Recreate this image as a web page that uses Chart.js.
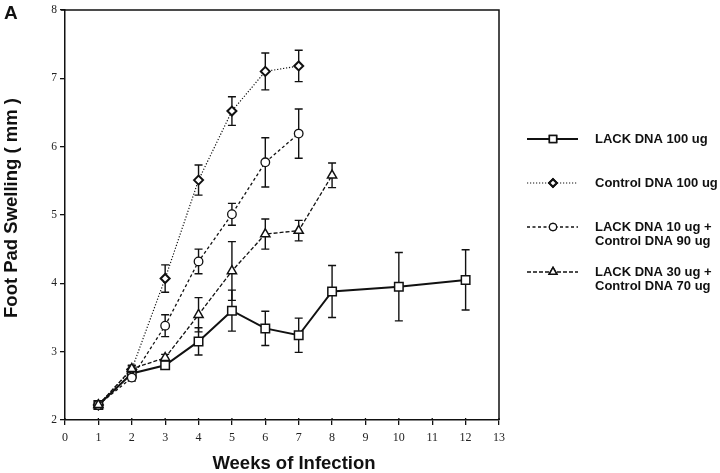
<!DOCTYPE html>
<html lang="en">
<head>
<meta charset="UTF-8" />
<title>Foot Pad Swelling</title>
<script src="https://cdn.jsdelivr.net/npm/chart.js@4.4.0/dist/chart.umd.min.js"></script>
<style>
  html, body { margin: 0; padding: 0; background: #fff; }
  .chartBox { width: 720px; height: 473px; position: relative; }
</style>
</head>
<body>
<div class="chartBox">
  <canvas id="myChart"></canvas>
</div>
<script>
// values
const lackWeeks = [1, 2, 3, 4, 5, 6, 7, 8, 10, 12];
const lack100 = [2.22, 2.68, 2.80, 3.15, 3.60, 3.34, 3.24, 3.88, 3.95, 4.05];
const lack100Err = [0.04, 0.06, 0.05, 0.20, 0.30, 0.25, 0.25, 0.38, 0.50, 0.44];

const ctrlWeeks = [1, 2, 3, 4, 5, 6, 7];
const ctrl100 = [2.22, 2.74, 4.07, 5.51, 6.52, 7.10, 7.18];
const ctrl100Err = [0.03, 0.05, 0.20, 0.22, 0.21, 0.27, 0.23];

const lack10Weeks = [1, 2, 3, 4, 5, 6, 7];
const lack10 = [2.22, 2.62, 3.38, 4.32, 5.01, 5.77, 6.19];
const lack10Err = [0.03, 0.05, 0.16, 0.18, 0.16, 0.36, 0.36];

const lack30Weeks = [1, 2, 3, 4, 5, 6, 7, 8];
const lack30 = [2.22, 2.75, 2.91, 3.54, 4.18, 4.72, 4.77, 5.58];
const lack30Err = [0.03, 0.05, 0.05, 0.25, 0.43, 0.22, 0.15, 0.18];

const xTicks = [0, 1, 2, 3, 4, 5, 6, 7, 8, 9, 10, 11, 12, 13];
const yTicks = [2, 3, 4, 5, 6, 7, 8];

const xTitle = 'Weeks of Infection';
const yTitle = 'Foot Pad Swelling ( mm )';

const legendLabels = [
  ['LACK DNA 100 ug'],
  ['Control DNA 100 ug'],
  ['LACK DNA 10 ug +', 'Control DNA 90 ug'],
  ['LACK DNA 30 ug +', 'Control DNA 70 ug']
];

function pts(xs, ys) {
  return xs.map((x, i) => ({ x: x, y: ys[i] }));
}

const styles = [
  { pointStyle: 'rect', radius: 6, dash: [], width: 2, pbw: 1.5 },
  { pointStyle: 'rectRot', radius: 4.5, dash: [1.2, 1.8], width: 1.2, pbw: 2 },
  { pointStyle: 'circle', radius: 4.3, dash: [3, 2.5], width: 1.3, pbw: 1.3 },
  { pointStyle: 'triangle', radius: 5.3, dash: [4, 2], width: 1.3, pbw: 1.5 }
];

const seriesData = [
  { data: pts(lackWeeks, lack100), err: lack100Err },
  { data: pts(ctrlWeeks, ctrl100), err: ctrl100Err },
  { data: pts(lack10Weeks, lack10), err: lack10Err },
  { data: pts(lack30Weeks, lack30), err: lack30Err }
];

const datasets = seriesData.map((s, i) => ({
  label: legendLabels[i].join(' '),
  data: s.data,
  err: s.err,
  borderColor: '#111',
  backgroundColor: '#fff',
  borderWidth: styles[i].width,
  borderDash: styles[i].dash,
  pointStyle: styles[i].pointStyle,
  pointRadius: styles[i].radius,
  pointBorderWidth: styles[i].pbw,
  pointBackgroundColor: '#fff',
  pointBorderColor: '#111',
  tension: 0,
  order: 3 - i
}));

const sansBold = '"Liberation Sans", Arial, sans-serif';

// error bars, frame, titles and legend
const extras = {
  id: 'extras',
  beforeDatasetsDraw(chart) {
    const c = chart.ctx;
    const xs = chart.scales.x, ys = chart.scales.y;
    c.save();
    c.strokeStyle = '#111';
    c.lineWidth = 1.4;
    c.setLineDash([]);
    chart.data.datasets.forEach(ds => {
      ds.data.forEach((p, i) => {
        const e = ds.err[i];
        const px = xs.getPixelForValue(p.x);
        const top = ys.getPixelForValue(p.y + e);
        const bot = ys.getPixelForValue(p.y - e);
        c.beginPath();
        c.moveTo(px, top); c.lineTo(px, bot);
        c.moveTo(px - 4, top); c.lineTo(px + 4, top);
        c.moveTo(px - 4, bot); c.lineTo(px + 4, bot);
        c.stroke();
      });
    });
    c.restore();
  },
  afterDraw(chart) {
    const c = chart.ctx;
    const a = chart.chartArea;
    c.save();
    c.strokeStyle = '#111';
    c.lineWidth = 1.5;
    c.beginPath();
    c.moveTo(a.left - 4, a.top);
    c.lineTo(a.right, a.top);
    c.lineTo(a.right, a.bottom);
    c.stroke();

    // x ticks also poke a little into the plot
    const xs = chart.scales.x;
    c.lineWidth = 1.3;
    c.beginPath();
    xTicks.forEach(v => {
      const px = xs.getPixelForValue(v);
      c.moveTo(px, a.bottom); c.lineTo(px, a.bottom - 2);
    });
    c.stroke();

    c.fillStyle = '#111';
    c.textBaseline = 'middle';

    // panel letter
    c.font = 'bold 19px ' + sansBold;
    c.textAlign = 'left';
    c.fillText('A', 4, 14);

    // axis titles
    c.font = 'bold 18.5px ' + sansBold;
    c.textAlign = 'center';
    c.fillText(xTitle, (a.left + a.right) / 2 + 12, 464);
    c.save();
    c.translate(12, 208);
    c.rotate(-Math.PI / 2);
    c.fillText(yTitle, 0, 0);
    c.restore();

    // legend
    const rows = [139, 183, 227, 272];
    c.font = 'bold 13px ' + sansBold;
    c.textAlign = 'left';
    rows.forEach((y, i) => {
      const st = styles[i];
      c.lineWidth = st.width;
      c.setLineDash(st.dash);
      c.beginPath();
      c.moveTo(527, y); c.lineTo(578, y);
      c.stroke();
      c.setLineDash([]);
      c.lineWidth = st.pbw;
      Chart.helpers.drawPoint(c, {
        pointStyle: st.pointStyle,
        radius: st.radius * 0.85,
        rotation: 0,
        borderWidth: st.pbw
      }, 553, y);
      c.fillStyle = '#fff';
      c.fill();
      c.stroke();
      c.fillStyle = '#111';
      legendLabels[i].forEach((t, j) => {
        c.fillText(t, 595, y + j * 14);
      });
    });
    c.restore();
  }
};

const ctx = document.getElementById('myChart').getContext('2d');
const myChart = new Chart(ctx, {
  type: 'line',
  data: { datasets: datasets },
  options: {
    responsive: true,
    maintainAspectRatio: false,
    animation: false,
    layout: { padding: { top: 6, right: 221, left: 0, bottom: 0 } },
    plugins: {
      legend: { display: false },
      tooltip: { enabled: false }
    },
    scales: {
      x: {
        type: 'linear',
        min: 0,
        max: 13,
        afterBuildTicks: s => { s.ticks = xTicks.map(v => ({ value: v })); },
        afterFit: s => { s.height = 53; },
        grid: { drawOnChartArea: false, tickLength: 5, color: '#111', lineWidth: 1.3 },
        border: { color: '#111', width: 1.5 },
        ticks: {
          color: '#222',
          padding: 6,
          font: { family: '"Liberation Serif", "Times New Roman", serif', size: 12 }
        }
      },
      y: {
        min: 2,
        max: 8,
        afterBuildTicks: s => { s.ticks = yTicks.map(v => ({ value: v })); },
        afterFit: s => { s.width = 65; },
        grid: { drawOnChartArea: false, tickLength: 5, color: '#111', lineWidth: 1.3 },
        border: { color: '#111', width: 1.5 },
        ticks: {
          color: '#222',
          padding: 3,
          font: { family: '"Liberation Serif", "Times New Roman", serif', size: 11.5 }
        }
      }
    }
  },
  plugins: [extras]
});
</script>
</body>
</html>
